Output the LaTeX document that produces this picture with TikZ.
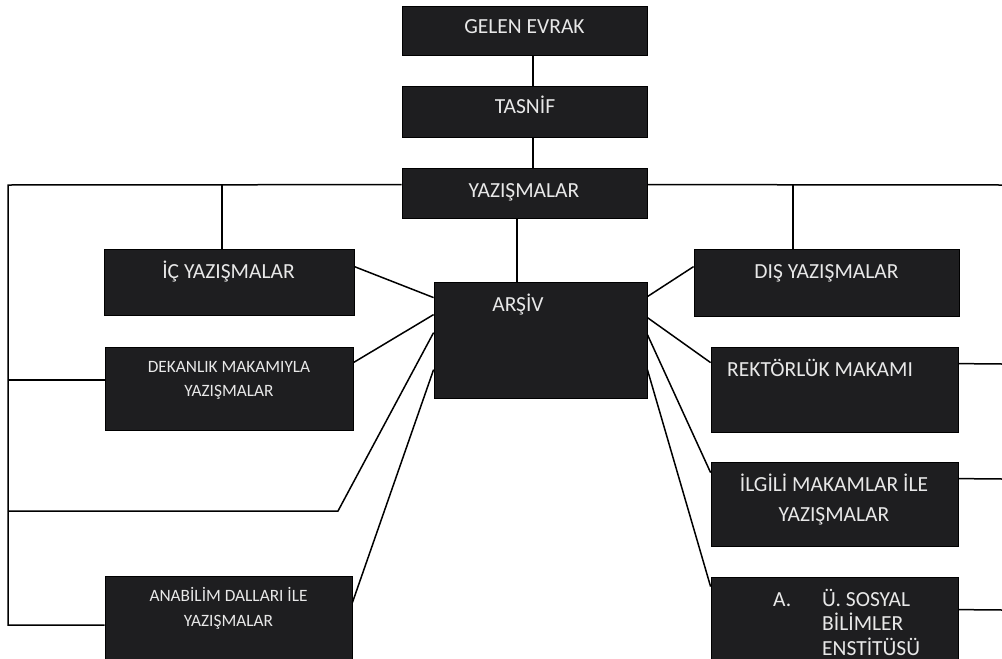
\documentclass[tikz,border=0pt]{standalone}
\usepackage{fontspec}
\setmainfont{Carlito}
\usetikzlibrary{calc}
\definecolor{boxfill}{RGB}{30,30,32}
\definecolor{boxtext}{RGB}{232,232,232}
\begin{document}
\begin{tikzpicture}[x=1pt,y=-1pt,
  box/.style={draw=black, line width=0.8pt, fill=boxfill, inner sep=0pt, anchor=center},
  conn/.style={draw=black, line width=1.5pt},
  lbl/.style={text=boxtext, inner sep=0pt, anchor=base, font=\fontsize{21.5}{25}\selectfont},
  small/.style={text=boxtext, inner sep=0pt, anchor=base, align=center, font=\fontsize{17.3}{24}\selectfont},
]
\useasboundingbox (0,0) rectangle (1002,659);
\fill[white] (0,0) rectangle (1002,659);
\clip (0,0) rectangle (1002,659);

% boxes
\node[box, minimum width=245, minimum height=49] (gelen) at (524.5,30.5) {};
\node[box, minimum width=245, minimum height=51] (tasnif) at (524.5,111.5) {};
\node[box, minimum width=245, minimum height=50] (yaz) at (524.5,193) {};
\node[box, minimum width=250, minimum height=66] (ic) at (229,282) {};
\node[box, minimum width=248, minimum height=83] (dek) at (229,388.5) {};
\node[box, minimum width=247, minimum height=104] (ana) at (228.5,628) {};
\node[box, minimum width=213, minimum height=116] (arsiv) at (540.5,340) {};
\node[box, minimum width=265, minimum height=67] (dis) at (826.5,282.5) {};
\node[box, minimum width=247, minimum height=85] (rek) at (834.5,389.5) {};
\node[box, minimum width=247, minimum height=84] (ilg) at (834.5,504) {};
\node[box, minimum width=247, minimum height=103] (au) at (834.5,628.5) {};

% texts (multi-line nodes are placed by the baseline of their last line)
\node[lbl] (tgelen) at (524.5,33) {GELEN EVRAK};
\node[lbl] (ttasnif) at (525,113) {TASNİF};
\node[lbl] (tyaz) at (524,197.5) {YAZIŞMALAR};
\node[lbl] (tic) at (228.5,278) {İÇ YAZIŞMALAR};
\node[lbl] (tdis) at (826.5,278) {DIŞ YAZIŞMALAR};
\node[lbl] (tarsiv) at (518,311) {ARŞİV};
\node[lbl, anchor=base west] (trek) at (727,376) {REKTÖRLÜK MAKAMI};
\node[small] (tdek) at (229,396) {DEKANLIK MAKAMIYLA\\YAZIŞMALAR};
\node[small, font=\fontsize{17.3}{25}\selectfont] (tana) at (228.5,626) {ANABİLİM DALLARI İLE\\YAZIŞMALAR};
\node[lbl, align=center, font=\fontsize{21.5}{30}\selectfont] (tilg) at (834,521) {İLGİLİ MAKAMLAR İLE\\YAZIŞMALAR};
\node[lbl, anchor=base west] (tanum) at (773,606) {A.};
\node[lbl, anchor=base west, align=left, font=\fontsize{21.5}{24.5}\selectfont] (tau) at (822,655) {Ü. SOSYAL\\BİLİMLER\\ENSTİTÜSÜ};

% connectors
\coordinate (tl) at (8,185);
\coordinate (tr) at (1002,185);
\coordinate (bl) at (8,625);
\coordinate (icb) at (222,185);
\coordinate (disb) at (793,185);
\coordinate (dl) at (8,380);
\coordinate (ml) at (8,511);
\coordinate (mk) at (338,511);
\coordinate (rr) at (1002,364);
\coordinate (ir) at (1002,479);
\coordinate (ar) at (1002,610);
\coordinate (ya) at ($(yaz.south)+(-7.5,0)$);

\draw[conn] ($(gelen.south)+(8.5,0)$) -- ($(tasnif.north)+(8.5,0)$);
\draw[conn] ($(tasnif.south)+(8.5,0)$) -- ($(yaz.north)+(8.5,0)$);
\draw[conn] ($(yaz.north west)+(0,17)$) -- (tl) -- (bl) -- (bl -| ana.west);
\draw[conn] ($(yaz.north east)+(0,17)$) -- (tr);
\draw[conn] (icb) -- (icb |- ic.north);
\draw[conn] (disb) -- (disb |- dis.north);
\draw[conn] (ya) -- (ya |- arsiv.north);
\draw[conn] (dl) -- (dl -| dek.west);
\draw[conn] (ml) -- (mk) -- ($(arsiv.north west)+(0,51)$);
\draw[conn] ($(ic.north east)+(0,18)$) -- ($(arsiv.north west)+(0,16)$);
\draw[conn] ($(dek.north east)+(0,16)$) -- ($(arsiv.north west)+(0,33)$);
\draw[conn] ($(ana.north east)+(0,27)$) -- ($(arsiv.north west)+(0,88)$);
\draw[conn] ($(arsiv.north east)+(0,15)$) -- ($(dis.north west)+(0,18)$);
\draw[conn] ($(arsiv.north east)+(0,36)$) -- ($(rek.north west)+(0,16)$);
\draw[conn] ($(arsiv.north east)+(0,53)$) -- ($(ilg.north west)+(0,11)$);
\draw[conn] ($(arsiv.north east)+(0,88)$) -- ($(au.north west)+(0,10)$);
\draw[conn] ($(rek.north east)+(0,17)$) -- (rr);
\draw[conn] ($(ilg.north east)+(0,17)$) -- (ir);
\draw[conn] ($(au.north east)+(0,33)$) -- (ar);
\end{tikzpicture}
\end{document}
